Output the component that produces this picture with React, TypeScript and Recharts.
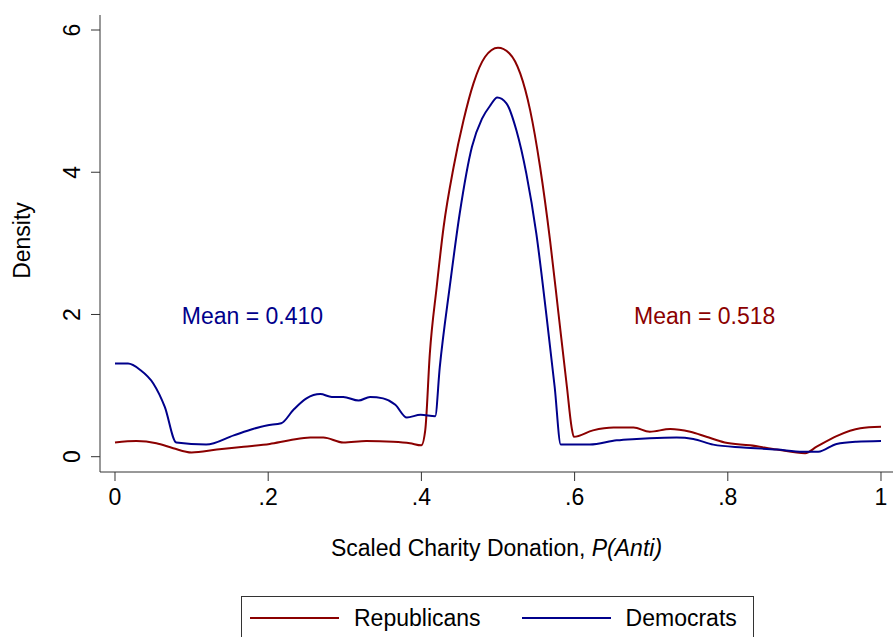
import React from "react";
import { LineChart, Line, XAxis, YAxis, Legend, ReferenceDot, Label } from "recharts";

// Republicans density (x = scaled donation, y = density)
const repX = [0, 0.028, 0.054, 0.076, 0.1, 0.133, 0.168, 0.202, 0.228, 0.255, 0.272, 0.298, 0.328, 0.363, 0.385, 0.4, 0.405, 0.411, 0.42, 0.429, 0.442, 0.455, 0.468, 0.483, 0.5, 0.515, 0.529, 0.542, 0.555, 0.568, 0.579, 0.59, 0.596, 0.599, 0.624, 0.651, 0.677, 0.698, 0.725, 0.751, 0.772, 0.796, 0.829, 0.864, 0.901, 0.916, 0.942, 0.973, 1.0];
const repY = [0.2, 0.22, 0.19, 0.12, 0.06, 0.1, 0.14, 0.18, 0.23, 0.27, 0.27, 0.2, 0.22, 0.21, 0.19, 0.16, 0.37, 1.45, 2.39, 3.23, 4.07, 4.73, 5.25, 5.62, 5.75, 5.67, 5.39, 4.87, 4.07, 3.04, 2.01, 0.98, 0.42, 0.28, 0.37, 0.41, 0.41, 0.35, 0.39, 0.35, 0.28, 0.2, 0.16, 0.1, 0.05, 0.14, 0.29, 0.4, 0.42];

// Democrats density
const demX = [0, 0.017, 0.033, 0.05, 0.065, 0.08, 0.119, 0.155, 0.18, 0.198, 0.217, 0.233, 0.25, 0.268, 0.283, 0.298, 0.318, 0.333, 0.35, 0.366, 0.381, 0.399, 0.418, 0.424, 0.437, 0.45, 0.466, 0.479, 0.49, 0.499, 0.511, 0.524, 0.537, 0.55, 0.563, 0.574, 0.582, 0.62, 0.655, 0.681, 0.698, 0.733, 0.755, 0.781, 0.82, 0.864, 0.898, 0.918, 0.942, 0.968, 1.0];
const demY = [1.31, 1.31, 1.22, 1.03, 0.7, 0.2, 0.17, 0.3, 0.39, 0.44, 0.47, 0.66, 0.82, 0.88, 0.84, 0.84, 0.79, 0.84, 0.82, 0.73, 0.55, 0.59, 0.57, 1.26, 2.39, 3.42, 4.36, 4.75, 4.94, 5.05, 4.97, 4.59, 3.98, 3.14, 2.01, 0.98, 0.17, 0.17, 0.23, 0.25, 0.26, 0.27, 0.25, 0.17, 0.13, 0.1, 0.07, 0.07, 0.18, 0.21, 0.22];

const xTicks = [0, 0.2, 0.4, 0.6, 0.8, 1];
const xTickLabels = ["0", ".2", ".4", ".6", ".8", "1"];
const yTicks = [0, 2, 4, 6];

const meanText = ["Mean = 0.410", "Mean = 0.518"];
const meanX = [0.1795, 0.7698];
const meanY = [1.98, 1.98];

const seriesNames = ["Republicans", "Democrats"];

const RED = "#8b0000";
const BLUE = "#00008b";
const AXIS = "#333";
const FONT = "'Liberation Sans', Arial, Helvetica, sans-serif";
const FS = 23;

const repData = repX.map((x, i) => ({ x, y: repY[i] }));
const demData = demX.map((x, i) => ({ x, y: demY[i] }));
const colors = [RED, BLUE];

const XTick = (props: any) => {
  const { x, y, payload } = props;
  const idx = xTicks.indexOf(payload.value);
  return (
    <text x={x} y={y + 14} textAnchor="middle" dominantBaseline="central" fontSize={FS} fontFamily={FONT} fill="#000">
      {idx >= 0 ? xTickLabels[idx] : payload.value}
    </text>
  );
};

const YTick = (props: any) => {
  const { x, y, payload } = props;
  const tx = x - 17;
  return (
    <text x={tx} y={y} transform={`rotate(-90, ${tx}, ${y})`} textAnchor="middle" dominantBaseline="central" fontSize={FS} fontFamily={FONT} fill="#000">
      {payload.value}
    </text>
  );
};

const XTitle = (props: any) => {
  const vb = props.viewBox || { x: 100, y: 472, width: 793 };
  return (
    <text x={vb.x + vb.width / 2} y={vb.y + 76} textAnchor="middle" dominantBaseline="central" fontSize={FS} fontFamily={FONT} fill="#000">
      Scaled Charity Donation, <tspan fontStyle="italic">P(Anti)</tspan>
    </text>
  );
};

const YTitle = (props: any) => {
  const vb = props.viewBox || { y: 15, height: 457 };
  const cy = vb.y + vb.height / 2 - 3;
  return (
    <text x={22} y={cy} transform={`rotate(-90, 22, ${cy})`} textAnchor="middle" dominantBaseline="central" fontSize={FS} fontFamily={FONT} fill="#000">
      Density
    </text>
  );
};

const LegendBox = () => (
  <div
    style={{
      boxSizing: "border-box",
      width: 513,
      height: 41,
      borderTop: `1px solid ${AXIS}`,
      borderLeft: `1px solid ${AXIS}`,
      borderRight: `1px solid ${AXIS}`,
      display: "flex",
      alignItems: "center",
      paddingLeft: 8,
      paddingTop: 2,
      fontFamily: FONT,
      fontSize: FS,
      color: "#000",
    }}
  >
    {seriesNames.map((name, i) => (
      <div key={name} style={{ display: "flex", alignItems: "center", marginLeft: i === 0 ? 0 : 41 }}>
        <div style={{ width: 89, height: 2, background: colors[i], marginRight: 15 }} />
        <span>{name}</span>
      </div>
    ))}
  </div>
);

export default function App() {
  return (
    <div style={{ position: "absolute", left: 0, top: 0, width: 893, height: 637, background: "#fff", overflow: "hidden" }}>
      <LineChart width={893} height={637} margin={{ top: 15, right: 0, bottom: 0, left: 0 }}>
        <XAxis
          dataKey="x"
          type="number"
          domain={[-0.01958, 1.01567]}
          ticks={xTicks}
          tick={<XTick />}
          tickSize={9}
          height={124}
          stroke={AXIS}
          allowDataOverflow
        >
          <Label content={<XTitle />} />
        </XAxis>
        <YAxis
          type="number"
          domain={[-0.2151, 6.211]}
          ticks={yTicks}
          tick={<YTick />}
          tickSize={9}
          width={100}
          stroke={AXIS}
          allowDataOverflow
        >
          <Label content={<YTitle />} />
        </YAxis>
        <Legend verticalAlign="bottom" content={<LegendBox />} wrapperStyle={{ left: 241, width: 513, height: 41 }} />
        <Line data={repData} dataKey="y" name={seriesNames[0]} type="monotone" stroke={RED} strokeWidth={2} dot={false} isAnimationActive={false} />
        <Line data={demData} dataKey="y" name={seriesNames[1]} type="monotone" stroke={BLUE} strokeWidth={2} dot={false} isAnimationActive={false} />
        {meanText.map((t, i) => (
          <ReferenceDot
            key={t}
            x={meanX[i]}
            y={meanY[i]}
            r={0}
            shape={(p: any) => (
              <text x={p.cx} y={p.cy} textAnchor="middle" dominantBaseline="central" fontSize={FS} fontFamily={FONT} fill={colors[1 - i]}>
                {t}
              </text>
            )}
          />
        ))}
      </LineChart>
    </div>
  );
}
